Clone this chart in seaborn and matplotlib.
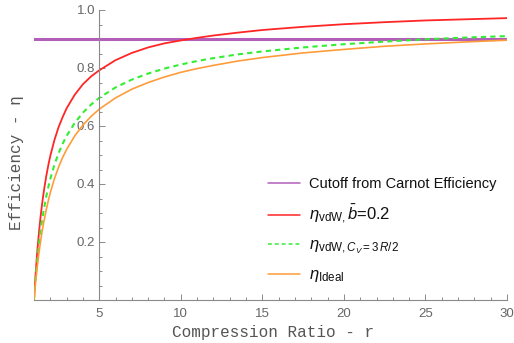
import matplotlib
matplotlib.use("Agg")
import matplotlib.pyplot as plt
import seaborn as sns
import numpy as np
import pandas as pd
from matplotlib.ticker import MultipleLocator

# ---- data ----
r_vals = [1, 1.02, 1.05, 1.1, 1.15, 1.2, 1.3, 1.4, 1.5, 1.6, 1.75, 1.9, 2, 2.25,
          2.5, 2.75, 3, 3.5, 4, 4.5, 5, 6, 7, 8, 9, 10, 11, 12, 13.5, 15, 17.5,
          20, 22.5, 25, 27.5, 30]
eta_ideal = [0.0, 0.013, 0.032, 0.062, 0.089, 0.115, 0.161, 0.201, 0.237, 0.269,
             0.311, 0.348, 0.370, 0.418, 0.457, 0.491, 0.519, 0.566, 0.603, 0.633,
             0.658, 0.697, 0.727, 0.750, 0.769, 0.785, 0.798, 0.809, 0.824, 0.836,
             0.852, 0.864, 0.875, 0.883, 0.890, 0.896]
eta_vdw_cv = [0.0, 0.016, 0.040, 0.076, 0.108, 0.138, 0.191, 0.237, 0.277, 0.311,
              0.357, 0.395, 0.418, 0.466, 0.505, 0.538, 0.566, 0.611, 0.646, 0.674,
              0.697, 0.733, 0.760, 0.781, 0.798, 0.812, 0.824, 0.834, 0.847, 0.857,
              0.871, 0.882, 0.891, 0.899, 0.905, 0.910]
eta_vdw_b = [0.0, 0.020, 0.048, 0.091, 0.130, 0.167, 0.231, 0.286, 0.333, 0.374,
             0.427, 0.471, 0.497, 0.551, 0.595, 0.630, 0.661, 0.708, 0.744, 0.771,
             0.792, 0.827, 0.852, 0.871, 0.885, 0.895, 0.904, 0.912, 0.922, 0.931,
             0.942, 0.951, 0.958, 0.964, 0.968, 0.972]
carnot_cutoff = 0.9
x_ticks = [5, 10, 15, 20, 25, 30]
y_ticks = [0.2, 0.4, 0.6, 0.8, 1.0]

labels = ["Cutoff from Carnot Efficiency",
          r"$\eta_{\mathrm{vdW},}\bar{b}$=0.2",
          r"$\eta_{\mathrm{vdW},C_V=3\,R/2}$",
          r"$\eta_{\mathrm{Ideal}}$"]

sns.set_style("white")
plt.rcParams["font.family"] = ["Liberation Sans", "DejaVu Sans"]
plt.rcParams["mathtext.fontset"] = "custom"
plt.rcParams["mathtext.rm"] = "Liberation Sans"
plt.rcParams["mathtext.it"] = "Liberation Sans:italic"
plt.rcParams["mathtext.bf"] = "Liberation Sans:bold"

fig = plt.figure(figsize=(5.14, 3.43), dpi=100)
ax = fig.add_axes([34 / 514, 43 / 343, 473 / 514, 290 / 343])

df = pd.DataFrame({"r": r_vals, "ideal": eta_ideal, "cv": eta_vdw_cv, "b": eta_vdw_b})
df["cut"] = carnot_cutoff

purple = "#B35FBA"
red = "#FF2626"
green = "#33EE33"
orange = "#FF9C3A"

sns.lineplot(data=df, x="r", y="cut", ax=ax, color=purple, lw=2.2, label=labels[0])
sns.lineplot(data=df, x="r", y="b", ax=ax, color=red, lw=1.3, label=labels[1])
sns.lineplot(data=df, x="r", y="cv", ax=ax, color=green, lw=1.5, label=labels[2])
ax.lines[-1].set_dashes([2.5, 2.0])
sns.lineplot(data=df, x="r", y="ideal", ax=ax, color=orange, lw=1.2, label=labels[3])

ax.set_xlim(1, 30)
ax.set_ylim(0, 1.0)
ax.set_xlabel("")
ax.set_ylabel("")

for s in ["top", "right"]:
    ax.spines[s].set_visible(False)
ax.spines["left"].set_position(("data", 5))
ax.spines["bottom"].set_position(("data", 0))
for s in ["left", "bottom"]:
    ax.spines[s].set_color("#8a8a8a")
    ax.spines[s].set_linewidth(0.8)

ax.set_xticks(x_ticks)
ax.set_yticks(y_ticks)
ax.set_yticklabels([f"{v:.1f}" for v in y_ticks])
ax.xaxis.set_minor_locator(MultipleLocator(1))
ax.yaxis.set_minor_locator(MultipleLocator(0.05))
ax.tick_params(which="both", direction="in", color="#8a8a8a", labelcolor="#666666",
               labelsize=9.5, width=0.7, bottom=True, left=True)
ax.tick_params(which="major", length=4)
ax.tick_params(which="minor", length=2)
ax.tick_params(axis="x", pad=6)
ax.tick_params(axis="y", pad=3)
ax.set_facecolor("white")

fig.text(273 / 514, 1 - 332 / 343, "Compression Ratio - r", family="Liberation Mono",
         fontsize=11.5, color="#555555", ha="center", va="center")
fig.text(17 / 514, 1 - 163 / 343, "Efficiency - η", family="Liberation Mono",
         fontsize=11.5, color="#555555", ha="center", va="center", rotation=90)

leg = ax.legend(loc="upper left", bbox_to_anchor=(0.469, 0.466), frameon=False,
                handlelength=2.3, handletextpad=0.6, labelspacing=0.8, fontsize=10)
sizes = [10.5, 12, 12, 12]
for t, s in zip(leg.get_texts(), sizes):
    t.set_fontsize(s)
    t.set_color("#111111")
for ln in leg.get_lines():
    ln.set_linewidth(1.1)

fig.savefig("out.png", dpi=100, facecolor="white")
